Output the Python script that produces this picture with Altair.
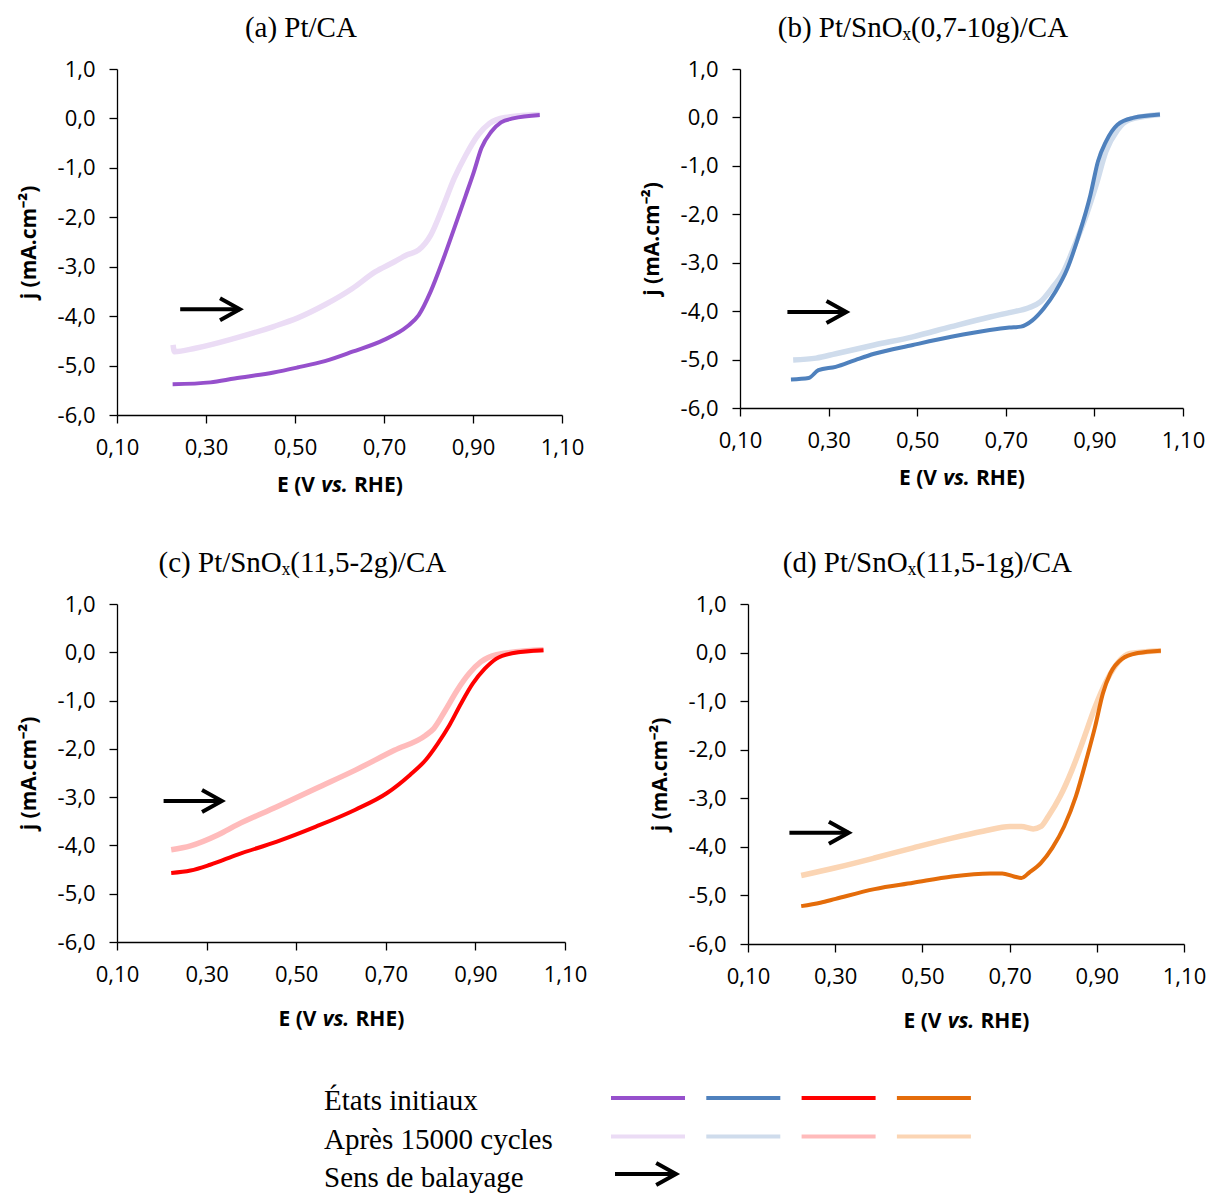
import altair as alt
import pandas as pd

# ---------------- data ----------------
x_ticks = [0.1, 0.3, 0.5, 0.7, 0.9, 1.1]
y_ticks = [-6, -5, -4, -3, -2, -1, 0, 1]

titles = ["(a) Pt/CA", "(b) Pt/SnOₓ(0,7-10g)/CA",
          "(c) Pt/SnOₓ(11,5-2g)/CA", "(d) Pt/SnOₓ(11,5-1g)/CA"]

colors_initial = ["#9650CC", "#4F81BD", "#FF0000", "#E46C0A"]
colors_after = ["#EBDCF5", "#CFDCEC", "#FFBBBB", "#FBD5B4"]

# (a) Pt/CA
a_init_E = [0.225, 0.31, 0.364, 0.452, 0.505, 0.567, 0.629, 0.70, 0.752, 0.778, 0.805,
            0.831, 0.858, 0.884, 0.902, 0.919, 0.941, 0.963, 0.99, 1.05]
a_init_j = [-5.38, -5.34, -5.26, -5.14, -5.04, -4.91, -4.72, -4.48, -4.21, -3.98, -3.50,
            -2.90, -2.22, -1.55, -1.08, -0.60, -0.27, -0.08, 0.0, 0.07]
a_after_E = [0.226, 0.229, 0.276, 0.364, 0.452, 0.505, 0.567, 0.629, 0.681, 0.717, 0.752,
             0.778, 0.805, 0.831, 0.858, 0.884, 0.911, 0.937, 0.972, 1.05]
a_after_j = [-4.58, -4.72, -4.65, -4.45, -4.21, -4.04, -3.77, -3.44, -3.10, -2.93, -2.76,
             -2.66, -2.36, -1.82, -1.21, -0.74, -0.34, -0.10, 0.02, 0.08]

# (b) Pt/SnOx(0,7-10g)/CA
b_init_E = [0.215, 0.255, 0.277, 0.316, 0.36, 0.403, 0.49, 0.577, 0.664, 0.708, 0.734,
            0.76, 0.786, 0.812, 0.839, 0.865, 0.891, 0.908, 0.926, 0.952, 0.987, 1.048]
b_init_j = [-5.41, -5.38, -5.22, -5.15, -5.01, -4.88, -4.70, -4.53, -4.39, -4.34, -4.32,
            -4.19, -3.94, -3.60, -3.12, -2.43, -1.60, -0.91, -0.50, -0.15, -0.01, 0.06]
b_after_E = [0.22, 0.272, 0.316, 0.403, 0.49, 0.577, 0.664, 0.708, 0.752, 0.778, 0.804,
             0.83, 0.856, 0.882, 0.904, 0.926, 0.952, 0.978, 1.048]
b_after_j = [-5.01, -4.97, -4.88, -4.70, -4.53, -4.32, -4.12, -4.03, -3.93, -3.81, -3.53,
             -3.19, -2.63, -2.01, -1.39, -0.70, -0.26, -0.05, 0.06]

# (c) Pt/SnOx(11,5-2g)/CA
c_init_E = [0.221, 0.264, 0.308, 0.369, 0.457, 0.544, 0.632, 0.702, 0.754, 0.789, 0.816,
            0.842, 0.868, 0.894, 0.921, 0.947, 0.982, 1.052]
c_init_j = [-4.57, -4.52, -4.40, -4.19, -3.92, -3.61, -3.26, -2.92, -2.54, -2.23, -1.89,
            -1.51, -1.06, -0.65, -0.34, -0.13, -0.02, 0.04]
c_after_E = [0.221, 0.264, 0.326, 0.369, 0.457, 0.544, 0.632, 0.719, 0.789, 0.807, 0.833,
             0.859, 0.886, 0.912, 0.947, 1.052]
c_after_j = [-4.09, -4.01, -3.78, -3.57, -3.20, -2.82, -2.44, -2.03, -1.72, -1.58, -1.20,
             -0.79, -0.44, -0.20, -0.05, 0.05]

# (d) Pt/SnOx(11,5-1g)/CA
d_init_E = [0.222, 0.266, 0.301, 0.39, 0.479, 0.568, 0.656, 0.683, 0.71, 0.727, 0.745,
            0.772, 0.798, 0.825, 0.852, 0.878, 0.896, 0.914, 0.931, 0.958, 0.994, 1.047]
d_init_j = [-5.22, -5.15, -5.07, -4.87, -4.74, -4.61, -4.55, -4.55, -4.61, -4.64, -4.53,
            -4.33, -4.02, -3.58, -2.96, -2.14, -1.53, -0.84, -0.43, -0.13, -0.01, 0.04]
d_after_E = [0.222, 0.301, 0.39, 0.479, 0.568, 0.639, 0.701, 0.727, 0.754, 0.772, 0.789,
             0.816, 0.843, 0.869, 0.896, 0.923, 0.949, 0.976, 1.047]
d_after_j = [-4.59, -4.43, -4.23, -4.02, -3.82, -3.68, -3.58, -3.58, -3.63, -3.58, -3.37,
             -2.96, -2.42, -1.80, -1.12, -0.57, -0.20, -0.02, 0.04]

# scan-direction arrows (E start, E end, j)
arrow_E0 = [0.242, 0.207, 0.204, 0.195]
arrow_E1 = [0.376, 0.340, 0.334, 0.331]
arrow_j = [-3.86, -4.02, -3.08, -3.71]

legend_labels = ["États initiaux", "Après 15000 cycles", "Sens de balayage"]
x_title_parts = ["E (V", "vs.", "RHE)"]

# ---------------- chart ----------------
X_LABEL = "replace(format(datum.value, '.2f'), '.', ',')"
Y_LABEL = "(datum.value < 0 ? '-' : '') + replace(format(abs(datum.value), '.1f'), '.', ',')"
HEAD = "M-1.8,-1L0,0L-1.8,1"
ONE = pd.DataFrame({"k": [0]})


def xtitle(w, y):
    """Bold axis title with italic 'vs.' built from three text pieces."""
    base = dict(font="Open Sans", fontSize=21, fontWeight="bold", color="black",
                baseline="middle")
    c = w / 2 - 5
    gap = 13.5 + 6
    p1 = alt.Chart(ONE).mark_text(align="right", **base).encode(
        x=alt.value(c - gap), y=alt.value(y), text=alt.value(x_title_parts[0]))
    p2 = alt.Chart(ONE).mark_text(align="center", fontStyle="italic", **base).encode(
        x=alt.value(c), y=alt.value(y), text=alt.value(x_title_parts[1]))
    p3 = alt.Chart(ONE).mark_text(align="left", **base).encode(
        x=alt.value(c + gap), y=alt.value(y), text=alt.value(x_title_parts[2]))
    return [p1, p2, p3]


def panel(i, E_i, j_i, E_a, j_a, w, h, xt_off):
    x = alt.X("E:Q", scale=alt.Scale(domain=[0.1, 1.1], nice=False, zero=False),
              axis=alt.Axis(values=x_ticks, labelExpr=X_LABEL, title=None))
    y = alt.Y("j:Q", scale=alt.Scale(domain=[-6, 1], nice=False, zero=False),
              axis=alt.Axis(values=y_ticks, labelExpr=Y_LABEL, title="j (mA.cm⁻²)"))
    after = alt.Chart(pd.DataFrame({"E": E_a, "j": j_a})).mark_line(
        interpolate="monotone", color=colors_after[i], strokeWidth=5.5).encode(x=x, y=y)
    init = alt.Chart(pd.DataFrame({"E": E_i, "j": j_i})).mark_line(
        interpolate="monotone", color=colors_initial[i], strokeWidth=4).encode(x="E:Q", y="j:Q")
    adf = pd.DataFrame({"E0": [arrow_E0[i]], "E1": [arrow_E1[i]], "j": [arrow_j[i]]})
    shaft = alt.Chart(adf).mark_rule(color="black", strokeWidth=4).encode(
        x="E0:Q", x2="E1:Q", y="j:Q")
    head = alt.Chart(adf).mark_point(shape=HEAD, filled=False, size=484, color="black",
                                     strokeWidth=4, opacity=1, strokeJoin="miter").encode(
        x="E1:Q", y="j:Q")
    return alt.layer(after, init, shaft, head, *xtitle(w, h + xt_off)).properties(
        width=w, height=h, title=titles[i])


pa = panel(0, a_init_E, a_init_j, a_after_E, a_after_j, 445, 346, 71)
pb = panel(1, b_init_E, b_init_j, b_after_E, b_after_j, 443, 339, 71)
pc = panel(2, c_init_E, c_init_j, c_after_E, c_after_j, 448, 338, 78)
pd_ = panel(3, d_init_E, d_init_j, d_after_E, d_after_j, 436, 340, 78)

row1 = alt.hconcat(pa, pb, spacing=57)
row2 = alt.hconcat(pc, pd_, spacing=62)

# ---------------- legend ----------------
row_y0, row_dy = 16, 38.5
text_df = pd.DataFrame({"label": legend_labels,
                        "y": [row_y0 + k * row_dy for k in range(3)]})
texts = alt.Chart(text_df).mark_text(
    align="left", baseline="middle", font="Liberation Serif", fontSize=29,
    color="black").encode(x=alt.value(207), y=alt.Y("y:Q", scale=None), text="label:N")

seg_x0 = [494 + k * 95.3 for k in range(4)]
rows = []
for k in range(4):
    rows.append({"x0": seg_x0[k], "x1": seg_x0[k] + 74, "y": row_y0 - 3, "c": colors_initial[k]})
    rows.append({"x0": seg_x0[k], "x1": seg_x0[k] + 74, "y": row_y0 + row_dy - 3, "c": colors_after[k]})
seg_df = pd.DataFrame(rows)
segs = alt.Chart(seg_df).mark_rule(strokeWidth=4).encode(
    x=alt.X("x0:Q", scale=None), x2="x1:Q", y=alt.Y("y:Q", scale=None),
    color=alt.Color("c:N", scale=None))

larrow = pd.DataFrame({"x0": [498], "x1": [559], "y": [row_y0 + 2 * row_dy - 4]})
lshaft = alt.Chart(larrow).mark_rule(color="black", strokeWidth=4).encode(
    x=alt.X("x0:Q", scale=None), x2="x1:Q", y=alt.Y("y:Q", scale=None))
lhead = alt.Chart(larrow).mark_point(shape=HEAD, filled=False, size=484, color="black",
                                     strokeWidth=4, opacity=1, strokeJoin="miter").encode(
    x=alt.X("x1:Q", scale=None), y=alt.Y("y:Q", scale=None))

legend = alt.layer(texts, segs, lshaft, lhead).properties(
    width=870, height=95, view=alt.ViewBackground(fill="white", stroke=None))

chart = alt.vconcat(row1, row2, legend, spacing=53).properties(
    padding={"left": 10, "top": 6, "right": 0, "bottom": 0}
).configure_axis(
    domainColor="black", domainWidth=1.3, tickColor="black", tickWidth=1.3, tickSize=8,
    grid=False, labelFont="Open Sans", labelFontSize=22, labelColor="black",
    titleFont="Open Sans", titleFontSize=21, titleFontWeight="bold", titleColor="black",
    labelFlush=False, labelOverlap=False
).configure_axisX(labelPadding=14, titlePadding=14
).configure_axisY(labelPadding=14, titlePadding=18
).configure_view(stroke=None
).configure_title(font="Liberation Serif", fontSize=29, fontWeight="normal",
                  color="black", offset=15, anchor="middle", frame="bounds")

chart.save("out.html", embed_options={"renderer": "svg", "actions": False})
